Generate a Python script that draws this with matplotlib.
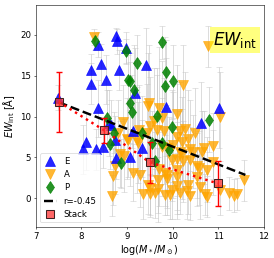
import numpy as np
import matplotlib
matplotlib.use('Agg')
import matplotlib.pyplot as plt

# E galaxies (blue)
e_mass = [7.49, 8.04, 8.10, 8.22, 8.22, 8.33, 8.36, 8.37, 8.44, 8.48, 8.55, 8.60, 8.66,
          8.74, 8.77, 8.77, 8.79, 8.83, 8.98, 9.07, 9.14, 9.18, 9.32, 9.42, 9.85, 10.63, 11.03]
e_ew = [12.3, 6.0, 6.9, 15.7, 14.0, 6.0, 18.8, 11.0, 16.4, 6.25, 14.5, 9.2, 9.0,
        7.1, 4.9, 19.8, 19.2, 15.7, 18.4, 5.0, 8.2, 12.9, 6.1, 16.3, 11.2, 9.2, 11.1]
e_err = [1.5, 3.0, 3.5, 2.0, 2.5, 2.5, 1.5, 3.5, 2.5, 2.5, 3.0, 4.0, 3.0,
         3.0, 2.5, 1.0, 1.5, 2.5, 2.0, 3.5, 5.0, 5.5, 3.5, 4.5, 6.0, 5.0, 5.0]

# A galaxies (orange)
a_mass = [8.28, 10.78, 10.24, 9.49, 9.47, 9.70, 10.10, 9.78, 11.04, 8.92, 9.60, 9.51, 9.26,
          9.43, 9.65, 9.82, 10.16, 10.28, 10.50, 8.81, 9.00, 9.21, 9.03, 9.25, 10.09, 10.35,
          10.20, 10.02, 9.76, 9.87, 10.39, 10.69, 10.90, 8.85, 8.93, 10.16, 10.21, 10.46,
          10.64, 9.98, 10.10, 10.24, 10.38, 10.90, 8.74, 10.54, 10.59, 10.75, 10.09, 9.70,
          9.84, 9.14, 9.29, 8.70, 9.87, 10.09, 10.53, 9.69, 9.88, 11.58, 9.47, 10.10, 10.35,
          10.60, 9.51, 9.69, 9.98, 11.04, 10.32, 8.68, 9.36, 9.51, 9.62, 9.84, 9.95, 10.16,
          10.38, 10.72, 11.23, 11.35, 11.42, 10.75]
a_ew = [19.7, 18.6, 13.8, 11.7, 11.3, 11.0, 10.3, 9.8, 10.0, 9.3, 9.4, 8.9, 8.3,
        8.0, 8.4, 8.2, 8.2, 8.5, 8.0, 8.0, 7.3, 7.1, 7.1, 6.8, 7.5, 7.3,
        6.9, 6.5, 6.3, 6.1, 6.0, 6.2, 6.4, 5.4, 5.2, 5.7, 5.4, 5.7,
        5.7, 4.7, 4.8, 4.5, 4.7, 4.4, 4.0, 4.0, 3.7, 3.5, 3.5, 3.6,
        3.1, 3.1, 2.9, 2.7, 2.8, 2.6, 2.6, 2.2, 2.4, 2.2, 1.6, 1.5, 1.6,
        1.4, 1.2, 1.1, 1.0, 1.0, 0.9, 0.3, 0.5, 0.5, 0.6, 0.4, 0.4, 0.6,
        0.3, 0.5, 0.6, 0.3, 0.5, 0.2]
a_err = [1.0, 2.5, 5.0, 7.0, 6.5, 7.5, 6.0, 7.0, 5.5, 4.5, 6.5, 6.0, 5.5,
         6.0, 7.5, 6.5, 6.0, 7.0, 5.5, 4.0, 5.0, 6.5, 4.5, 5.0, 6.5, 6.0,
         5.5, 6.5, 6.0, 5.0, 6.0, 4.5, 4.0, 4.0, 4.5, 5.0, 5.5, 4.5,
         5.0, 5.0, 4.5, 5.0, 4.0, 4.0, 3.5, 4.0, 4.5, 4.0, 5.0, 4.5,
         4.0, 3.5, 4.0, 3.5, 4.0, 4.5, 3.5, 4.0, 4.5, 2.5, 3.5, 4.0, 3.5,
         4.0, 3.5, 4.0, 3.5, 3.0, 3.5, 2.5, 3.0, 2.5, 3.0, 2.5, 3.0, 2.5,
         3.0, 2.5, 2.0, 2.0, 2.0, 2.5]

# P galaxies (green)
p_mass = [8.30, 8.57, 8.63, 8.71, 8.87, 8.98, 9.03, 9.07, 9.07, 9.10, 9.15, 9.22,
          9.32, 9.54, 9.62, 9.66, 9.76, 9.77, 9.84, 9.86, 9.92, 9.98, 10.02, 10.80]
p_ew = [19.2, 9.8, 6.6, 8.0, 4.3, 18.0, 14.5, 14.3, 11.7, 10.6, 13.2, 16.5,
        8.0, 6.7, 4.6, 10.1, 6.7, 19.1, 13.7, 15.4, 5.95, 8.7, 14.3, 9.6]
p_err = [1.0, 3.5, 3.0, 2.5, 3.0, 1.5, 3.0, 3.5, 5.0, 4.5, 5.5, 3.5,
         4.5, 4.0, 3.5, 5.0, 4.0, 2.0, 6.0, 4.0, 4.0, 4.5, 4.5, 4.0]

# stacked values
stack_mass = [7.5, 8.5, 9.5, 11.0]
stack_ew = [11.8, 8.3, 4.4, 1.8]
stack_err = [3.7, 1.5, 2.5, 2.75]

# linear fit, r=-0.45
fit_mass = [7.5, 11.6]
fit_ew = [11.75, 2.85]

fig = plt.figure(figsize=(5.48, 5.16), dpi=50)
ax = fig.add_axes([0.131, 0.121, 0.831, 0.861])

ebkw = dict(fmt='none', ecolor='#c0c0c0', elinewidth=1.3, capsize=4, alpha=0.6, zorder=1)
ax.errorbar(e_mass, e_ew, yerr=e_err, **ebkw)
ax.errorbar(a_mass, a_ew, yerr=a_err, **ebkw)
ax.errorbar(p_mass, p_ew, yerr=p_err, **ebkw)

ax.plot(e_mass, e_ew, '^', color='blue', ms=13, alpha=0.85, ls='none', label='E', zorder=3)
ax.plot(a_mass, a_ew, 'v', color='orange', ms=13, alpha=0.8, ls='none', label='A', zorder=2)
ax.plot(p_mass, p_ew, 'd', color='green', ms=12, alpha=0.85, ls='none', label='P', zorder=3)

ax.plot(fit_mass, fit_ew, '--', color='black', lw=3.5, label='r=-0.45', zorder=4)

ax.plot(stack_mass, stack_ew, ':', color='red', lw=3.5, zorder=4)
ax.errorbar(stack_mass, stack_ew, yerr=stack_err, fmt='none', ecolor='red',
            elinewidth=2, capsize=5, capthick=2, zorder=5)
ax.plot(stack_mass, stack_ew, 's', mfc=(1, 0.2, 0.2, 0.75), mec='#402020', mew=1.5,
        ms=12, ls='none', label='Stack', zorder=6)

ax.set_xlim(7, 12)
ax.set_ylim(-3.5, 23.7)
ax.set_xticks([7, 8, 9, 10, 11, 12])
ax.set_yticks([0, 5, 10, 15, 20])
ax.tick_params(labelsize=12.5)
ax.set_xlabel(r'log$(M_*/M_\odot)$', fontsize=14)
ax.set_ylabel(r'$EW_{\rm int}$ [$\rm\AA$]', fontsize=14)

ax.text(0.972, 0.885, r'$EW_{\rm int}$', transform=ax.transAxes, ha='right', va='top',
        fontsize=24, bbox=dict(facecolor='yellow', alpha=0.5, edgecolor='none', pad=4))

ax.legend(loc='lower left', fontsize=12.5, handlelength=1.5)

fig.savefig('out.png', dpi=50)
